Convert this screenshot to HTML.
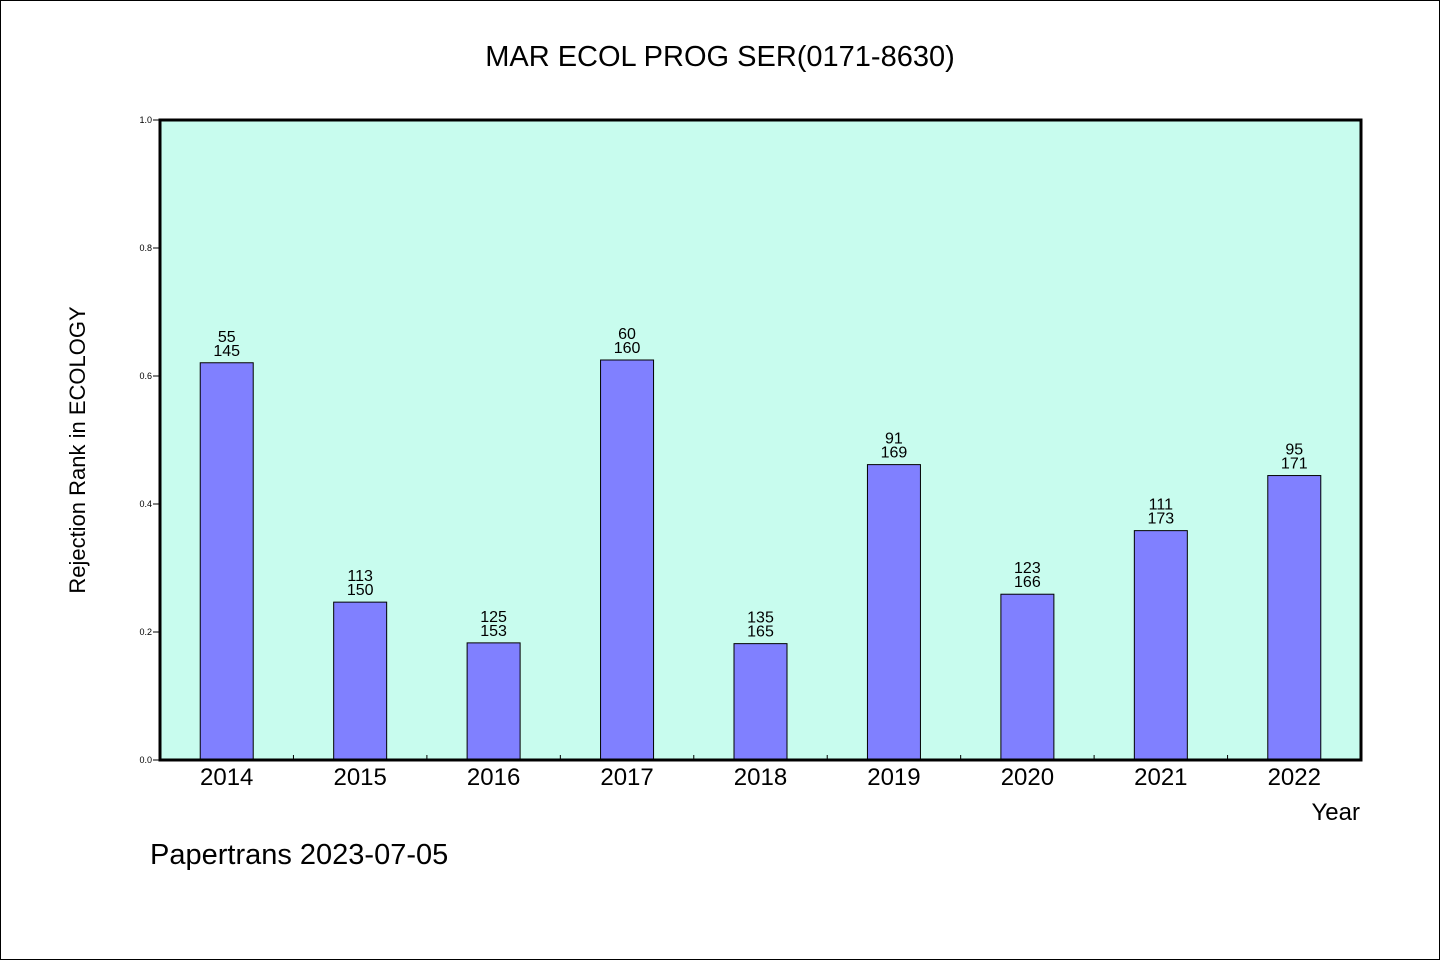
<!DOCTYPE html>
<html><head><meta charset="utf-8"><style>
html,body{margin:0;padding:0;background:#fff}
svg{display:block;font-family:"WenQuanYi Zen Hei","Liberation Sans",sans-serif}
</style></head><body>
<svg id="chart" width="1440" height="960">
<rect x="0.5" y="0.5" width="1439" height="959" fill="#fff" stroke="#000"/>
<text x="720" y="66" text-anchor="middle" font-size="29">MAR ECOL PROG SER(0171-8630)</text>
<rect x="160" y="120" width="1201" height="640" fill="#c8fcee"/>
<g id="bars"></g>
<rect x="160" y="120" width="1201" height="640" fill="none" stroke="#000" stroke-width="3"/>
<g id="axes"></g>
<text x="85" y="450" text-anchor="middle" font-size="22" transform="rotate(-90 85 450)">Rejection Rank in ECOLOGY</text>
<text x="1360" y="820" text-anchor="end" font-size="24">Year</text>
<text x="150" y="864" font-size="29">Papertrans 2023-07-05</text>
</svg>
<script>
const categories=["2014","2015","2016","2017","2018","2019","2020","2021","2022"];
const ranks=[55,113,125,60,135,91,123,111,95];
const totals=[145,150,153,160,165,169,166,173,171];
const yTicks=[0,0.2,0.4,0.6,0.8,1.0];
const NS="http://www.w3.org/2000/svg";
const L=160,R=1361,T=120,B=760,slot=(R-L)/categories.length,bw=53;
function xc(i){return L+slot*(i+0.5);}
function y(v){return B-(B-T)*v;}
function mk(tag,attrs,parent){const e=document.createElementNS(NS,tag);for(const k in attrs)e.setAttribute(k,attrs[k]);parent.appendChild(e);return e;}
const bars=document.getElementById('bars'),axes=document.getElementById('axes');
categories.forEach((c,i)=>{
  const v=1-ranks[i]/totals[i];
  const r=mk('rect',{x:xc(i)-bw/2,y:y(v),width:bw,height:B-y(v),fill:'#8080ff',stroke:'#000','stroke-width':1},bars);
  
  
  const t1=mk('text',{x:xc(i),y:y(v)-21,'text-anchor':'middle','font-size':16},bars);
  t1.textContent=ranks[i];
  
  
  const t2=mk('text',{x:xc(i),y:y(v)-7,'text-anchor':'middle','font-size':16},bars);
  t2.textContent=totals[i];
  
  
  const xl=mk('text',{x:xc(i),y:785,'text-anchor':'middle','font-size':24},axes);
  xl.textContent=c;
  
  
  if(i>0){
    const tk=mk('line',{x1:L+slot*i,x2:L+slot*i,y1:B-5,y2:B,stroke:'#000'},axes);
    
    
  }
});
yTicks.forEach(v=>{
  const tk=mk('line',{x1:L-7,x2:L,y1:y(v),y2:y(v),stroke:'#000'},axes);
  
  
  const tl=mk('text',{x:L-8,y:y(v)+3,'text-anchor':'end','font-size':9},axes);
  tl.textContent=v.toFixed(1);
  
  
});
</script>
</body></html>
